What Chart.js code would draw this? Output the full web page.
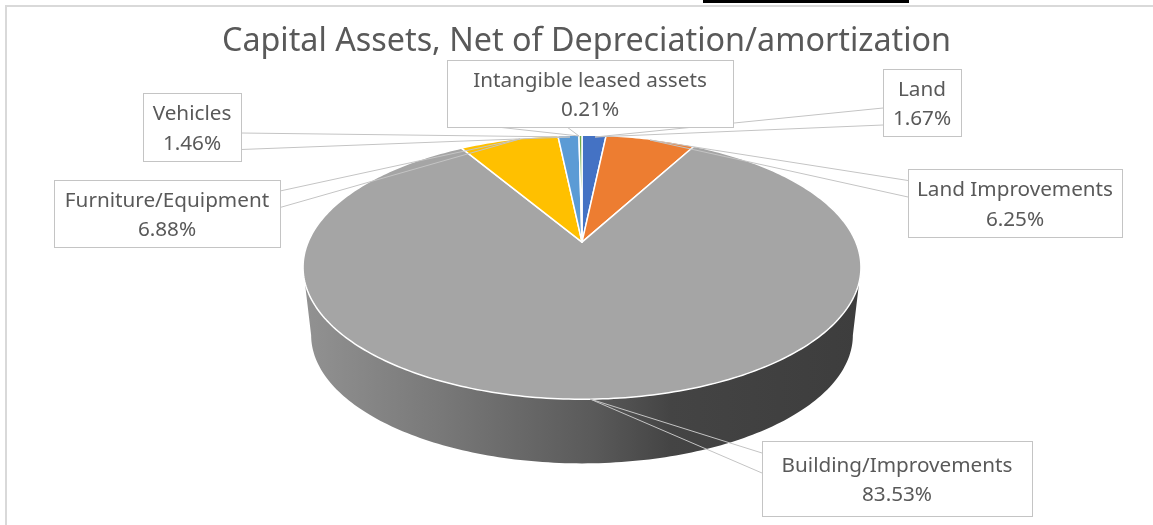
<!DOCTYPE html>
<html>
<head>
<meta charset="utf-8">
<title>Capital Assets</title>
<script src="https://cdn.jsdelivr.net/npm/chart.js@4/dist/chart.umd.min.js"></script>
<style>
    html, body { margin: 0; padding: 0; background: #fff; overflow: hidden; }
    #wrap { position: relative; width: 1153px; height: 525px; }
    #frame { position: absolute; left: 5px; top: 5px; right: 0; bottom: 0; border-left: 2px solid #d9d9d9; border-top: 2px solid #d9d9d9; }
    #tab { position: absolute; left: 703px; top: 0; width: 206px; height: 3px; background: #000; }
    canvas { position: absolute; left: 0; top: 0; }
</style>
</head>
<body>
<div id="wrap">
    <div id="frame"></div>
    <div id="tab"></div>
    <canvas id="pieChart" width="1153" height="525"></canvas>
</div>
<script>
const categories = ['Land', 'Land Improvements', 'Building/Improvements', 'Furniture/Equipment', 'Vehicles', 'Intangible leased assets'];
const shares = [1.67, 6.25, 83.53, 6.88, 1.46, 0.21];
const sliceColors = ['#4472c4', '#ed7d31', '#a5a5a5', '#ffc000', '#5b9bd5', '#70ad47'];

// Callout boxes: x, y, w, h, then wedge base points on the box edge and the tip on the pie
const callouts = [
    { box: [883, 69, 78, 67], base: [[883, 108], [883, 125]], tip: [595, 137] },
    { box: [908, 169, 214, 68], base: [[908, 180.5], [908, 197]], tip: [650, 140] },
    { box: [762, 441, 270, 75], base: [[762, 453], [762, 473]], tip: [590, 399] },
    { box: [54, 180, 226, 67], base: [[280, 191], [280, 207.5]], tip: [520, 139] },
    { box: [143, 93, 98, 68], base: [[241, 133], [241, 149.5]], tip: [570, 137] },
    { box: [447, 60, 286, 67], base: [[497, 127], [567, 127]], tip: [579, 136] }
];

// The tilted disc: perspective factor and vertical squash of the top face
const tilt = 0.1894;
const squash = 0.4648;
const depthScale = 0.971;
const depthDrop = 68.7;

function projectTop(el, angle) {
    const u = Math.cos(angle), v = -Math.sin(angle);
    const w = 1 + tilt * v;
    return [el.x + el.outerRadius * u / w, el.y - el.outerRadius * squash * v / w];
}

function projectBottom(el, angle) {
    const u = Math.cos(angle), v = -Math.sin(angle);
    const w = 1 + tilt * v;
    const r = el.outerRadius * depthScale;
    return [el.x + r * u / w, el.y + depthDrop - r * squash * v / w];
}

function arcSteps(el) {
    return Math.max(2, Math.ceil((el.endAngle - el.startAngle) * 60));
}

const tiltedPie = {
    id: 'tiltedPie',
    // the title sits a little right of and below where the layout puts it
    afterLayout(chart) {
        const t = chart.titleBlock;
        t.left += 4.5;
        t.right += 4.5;
        t.top += 2.5;
        t.bottom += 2.5;
    },
    // replaces the flat arc drawing, the arcs still come from the doughnut controller
    beforeDatasetsDraw(chart) {
        const ctx = chart.ctx;
        const arcs = chart.getDatasetMeta(0).data;

        const grad = ctx.createLinearGradient(303, 0, 861, 0);
        grad.addColorStop(0, '#929292');
        grad.addColorStop(0.25, '#787878');
        grad.addColorStop(0.52, '#5a5a5a');
        grad.addColorStop(0.66, '#444444');
        grad.addColorStop(1, '#3d3d3d');

        // side wall, only the front of the building slice can be seen
        const wall = arcs[2];
        const edge = Math.asin(tilt);
        const steps = 160;
        ctx.save();
        ctx.fillStyle = grad;
        ctx.beginPath();
        for (let i = 0; i <= steps; i++) {
            const p = projectTop(wall, edge + (Math.PI - 2 * edge) * i / steps);
            ctx.lineTo(p[0], p[1]);
        }
        for (let i = steps; i >= 0; i--) {
            const p = projectBottom(wall, edge + (Math.PI - 2 * edge) * i / steps);
            ctx.lineTo(p[0], p[1]);
        }
        ctx.closePath();
        ctx.fill();

        arcs.forEach(el => {
            const n = arcSteps(el);
            ctx.beginPath();
            ctx.moveTo(el.x, el.y);
            for (let i = 0; i <= n; i++) {
                const p = projectTop(el, el.startAngle + (el.endAngle - el.startAngle) * i / n);
                ctx.lineTo(p[0], p[1]);
            }
            ctx.closePath();
            ctx.fillStyle = el.options.backgroundColor;
            ctx.fill();
            ctx.strokeStyle = el.options.borderColor;
            ctx.lineWidth = el.options.borderWidth;
            ctx.lineJoin = 'round';
            ctx.stroke();
        });
        ctx.restore();
        return false;
    },
    afterDraw(chart) {
        const ctx = chart.ctx;
        ctx.save();
        ctx.lineWidth = 1;
        ctx.strokeStyle = '#c4c4c4';
        ctx.textAlign = 'center';
        ctx.textBaseline = 'middle';
        ctx.font = '20.7px "Noto Sans"';
        categories.forEach((name, i) => {
            const c = callouts[i];
            ctx.beginPath();
            ctx.moveTo(c.base[0][0], c.base[0][1]);
            ctx.lineTo(c.tip[0], c.tip[1]);
            ctx.lineTo(c.base[1][0], c.base[1][1]);
            ctx.stroke();
            ctx.fillStyle = '#ffffff';
            ctx.fillRect(c.box[0], c.box[1], c.box[2], c.box[3]);
            ctx.strokeRect(c.box[0] + 0.5, c.box[1] + 0.5, c.box[2], c.box[3]);
            ctx.fillStyle = '#595959';
            const mx = c.box[0] + c.box[2] / 2, my = c.box[1] + c.box[3] / 2;
            ctx.fillText(name, mx, my - 12.5);
            ctx.fillText(shares[i].toFixed(2) + '%', mx, my + 17);
        });
        ctx.restore();
    }
};

const pieCtx = document.getElementById('pieChart').getContext('2d');
const pieChart = new Chart(pieCtx, {
    type: 'pie',
    data: {
        labels: categories,
        datasets: [{
            data: shares,
            backgroundColor: sliceColors,
            borderColor: '#ffffff',
            borderWidth: 1.5
        }]
    },
    options: {
        responsive: false,
        animation: false,
        radius: 273.9,
        layout: { padding: { left: 11, right: 0, top: 0, bottom: 99.4 } },
        plugins: {
            legend: { display: false },
            tooltip: { enabled: false },
            title: {
                display: true,
                text: 'Capital Assets, Net of Depreciation/amortization',
                color: '#595959',
                font: { family: 'Noto Sans', size: 32.3, weight: '400' },
                padding: { top: 20, bottom: 0 }
            }
        }
    },
    plugins: [tiltedPie]
});
</script>
</body>
</html>
